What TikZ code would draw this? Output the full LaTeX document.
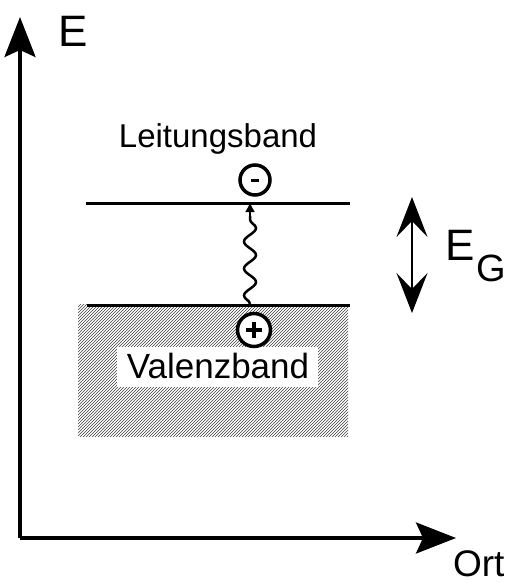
\documentclass[tikz,border=0pt]{standalone}
\usepackage{fontspec}
\setmainfont{Liberation Sans}
\usetikzlibrary{arrows.meta,patterns,decorations.pathmorphing}
\tikzset{
  axis/.style={line width=3.5pt,-{Stealth[length=40pt,width=31pt,inset=7pt]}},
  bandline/.style={line width=3pt},
  gaparrow/.style={line width=2pt,{Stealth[length=40pt,width=31pt,inset=16pt]}-{Stealth[length=40pt,width=31pt,inset=16pt]}},
  lbl/.style={inner sep=0pt,outer sep=0pt},
  carrier/.style={circle,draw,line width=3.5pt,minimum size=30pt,inner sep=0pt,fill=white},
}
\begin{document}
\begin{tikzpicture}[x=1pt,y=-1pt]
\useasboundingbox (0,0) rectangle (511,583);
% hatched valence band
\fill[pattern=north east lines,pattern color=black!75] (78,304) rectangle (348,436);
\fill[white] (117,347) rectangle (318,387);
% axes
\coordinate (O) at (20,538);
\coordinate (Etip) at (20,17);
\coordinate (Xtip) at (456,538);
\draw[axis] (O) -- (Etip);
\draw[axis] (O) -- (Xtip);
\node[lbl,anchor=base west] (E) at (58,47) {\fontsize{44}{50}\selectfont E};
\node[lbl,anchor=base west] (Ort) at (453,576) {\fontsize{37}{44}\selectfont Ort};
% bands
\coordinate (cbL) at (86,203);
\coordinate (cbR) at (350,203);
\coordinate (vbL) at (87,305);
\coordinate (vbR) at (350,305);
\draw[bandline] (cbL) -- (cbR);
\draw[bandline] (vbL) -- (vbR);
\node[lbl,anchor=base] (LB) at (218,147) {\fontsize{33}{40}\selectfont Leitungsband};
\node[lbl,anchor=base] (VB) at (218,378) {\fontsize{35}{42}\selectfont Valenzband};
% carriers
\node[carrier] (minus) at (255,180) {};
\draw[line width=3pt] ([xshift=-4pt]minus.center) -- ([xshift=4pt]minus.center);
\node[carrier,minimum size=33pt] (plus) at (254,330) {};
\draw[line width=4pt] ([xshift=-8pt]plus.center) -- ([xshift=8pt]plus.center);
\draw[line width=4pt] ([yshift=-8pt]plus.center) -- ([yshift=8pt]plus.center);
% photon / excitation
\coordinate (wb) at (250,304);
\coordinate (wt) at (250,216);
\coordinate (wtip) at (250,202);
\draw[line width=2.5pt,decorate,decoration={snake,segment length=27pt,amplitude=6pt}] (wb) -- (wt);
\draw[line width=2.5pt,-{Latex[length=10pt,width=10pt]}] (wt) -- (wtip);
% gap arrow
\coordinate (gT) at (412,197);
\coordinate (gB) at (412,313);
\draw[gaparrow] (gB) -- (gT);
\node[lbl,anchor=base west] (EG) at (445,260) {\fontsize{44}{50}\selectfont E};
\node[lbl,anchor=base west] (G) at (476,281) {\fontsize{38}{44}\selectfont G};
\end{tikzpicture}
\end{document}
